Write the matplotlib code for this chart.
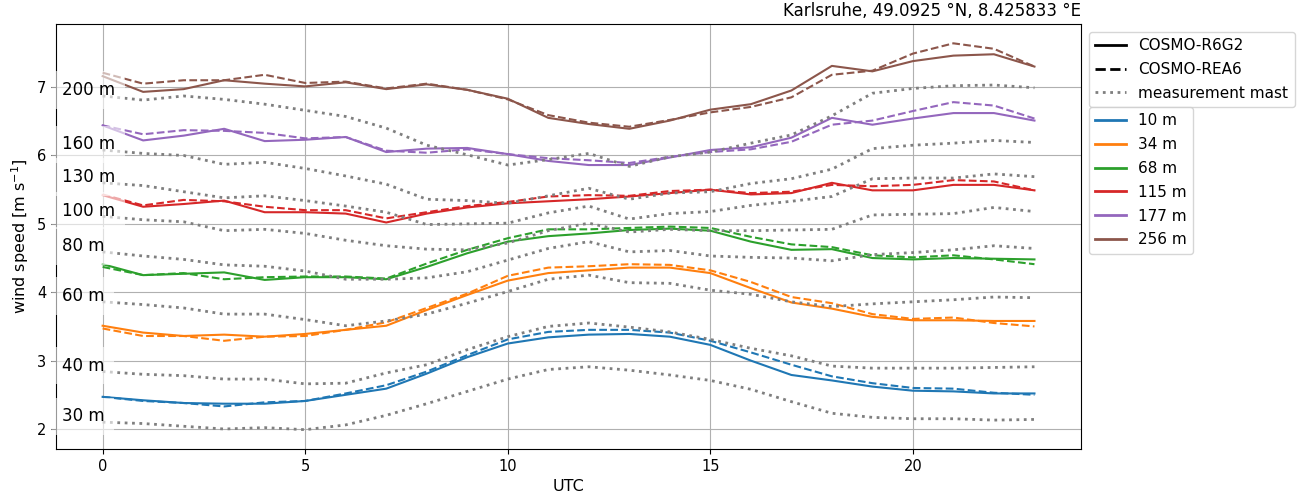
import numpy as np
import matplotlib
matplotlib.use("Agg")
import matplotlib.pyplot as plt
from matplotlib.lines import Line2D

plt.rcParams['font.size'] = 11
plt.rcParams['xtick.labelsize'] = 10.5
plt.rcParams['ytick.labelsize'] = 10.5

hours = np.arange(24)

# model levels: COSMO-R6G2 (solid) and COSMO-REA6 (dashed)
levels = ["10 m", "34 m", "68 m", "115 m", "177 m", "256 m"]
colors = ["tab:blue", "tab:orange", "tab:green", "tab:red", "tab:purple", "tab:brown"]

r6g2_10 = [2.47, 2.42, 2.38, 2.37, 2.37, 2.41, 2.50, 2.59, 2.81, 3.05, 3.25, 3.34,
           3.38, 3.39, 3.35, 3.23, 3.00, 2.79, 2.71, 2.62, 2.56, 2.55, 2.52, 2.52]
rea6_10 = [2.47, 2.41, 2.38, 2.33, 2.39, 2.41, 2.52, 2.64, 2.84, 3.08, 3.31, 3.42,
           3.45, 3.45, 3.41, 3.29, 3.12, 2.94, 2.77, 2.67, 2.60, 2.59, 2.53, 2.50]
r6g2_34 = [3.51, 3.41, 3.36, 3.38, 3.35, 3.39, 3.45, 3.51, 3.74, 3.96, 4.17, 4.28,
           4.32, 4.36, 4.36, 4.28, 4.06, 3.85, 3.76, 3.64, 3.59, 3.59, 3.58, 3.58]
rea6_34 = [3.47, 3.36, 3.36, 3.29, 3.35, 3.36, 3.45, 3.56, 3.77, 3.98, 4.24, 4.36,
           4.38, 4.41, 4.40, 4.32, 4.15, 3.93, 3.84, 3.68, 3.61, 3.63, 3.55, 3.50]
r6g2_68 = [4.41, 4.25, 4.27, 4.29, 4.18, 4.22, 4.22, 4.19, 4.37, 4.57, 4.74, 4.82,
           4.86, 4.91, 4.93, 4.90, 4.74, 4.62, 4.63, 4.50, 4.48, 4.50, 4.49, 4.48]
rea6_68 = [4.37, 4.25, 4.28, 4.19, 4.22, 4.23, 4.23, 4.20, 4.42, 4.62, 4.79, 4.92,
           4.92, 4.94, 4.96, 4.94, 4.81, 4.70, 4.66, 4.54, 4.51, 4.54, 4.48, 4.41]
r6g2_115 = [5.42, 5.25, 5.29, 5.34, 5.17, 5.17, 5.15, 5.02, 5.15, 5.24, 5.30, 5.33,
            5.36, 5.40, 5.45, 5.50, 5.43, 5.45, 5.60, 5.49, 5.49, 5.57, 5.57, 5.49]
rea6_115 = [5.43, 5.27, 5.35, 5.33, 5.25, 5.20, 5.20, 5.08, 5.17, 5.26, 5.32, 5.40,
            5.42, 5.41, 5.48, 5.50, 5.45, 5.47, 5.57, 5.55, 5.57, 5.64, 5.62, 5.49]
r6g2_177 = [6.44, 6.22, 6.29, 6.39, 6.21, 6.23, 6.27, 6.05, 6.10, 6.11, 6.02, 5.92,
            5.86, 5.86, 5.97, 6.08, 6.12, 6.26, 6.55, 6.45, 6.54, 6.62, 6.62, 6.51]
rea6_177 = [6.44, 6.31, 6.37, 6.36, 6.33, 6.25, 6.27, 6.07, 6.04, 6.09, 6.02, 5.96,
            5.93, 5.89, 5.98, 6.05, 6.09, 6.20, 6.45, 6.51, 6.65, 6.78, 6.73, 6.54]
r6g2_256 = [7.16, 6.93, 6.97, 7.10, 7.05, 7.01, 7.07, 6.97, 7.04, 6.96, 6.83, 6.55,
            6.46, 6.39, 6.51, 6.67, 6.75, 6.95, 7.31, 7.23, 7.38, 7.46, 7.48, 7.30]
rea6_256 = [7.21, 7.05, 7.10, 7.10, 7.18, 7.06, 7.08, 6.98, 7.05, 6.96, 6.82, 6.59,
            6.48, 6.42, 6.52, 6.63, 6.71, 6.85, 7.18, 7.24, 7.49, 7.64, 7.56, 7.30]

r6g2 = [r6g2_10, r6g2_34, r6g2_68, r6g2_115, r6g2_177, r6g2_256]
rea6 = [rea6_10, rea6_34, rea6_68, rea6_115, rea6_177, rea6_256]

# measurement mast heights
mast_levels = ["30 m", "40 m", "60 m", "80 m", "100 m", "130 m", "160 m", "200 m"]
mast_30 = [2.10, 2.08, 2.04, 2.00, 2.02, 1.99, 2.06, 2.20, 2.37, 2.55, 2.73, 2.87,
           2.91, 2.86, 2.79, 2.71, 2.58, 2.40, 2.23, 2.17, 2.15, 2.15, 2.13, 2.14]
mast_40 = [2.84, 2.80, 2.78, 2.73, 2.73, 2.66, 2.67, 2.82, 2.94, 3.16, 3.35, 3.50,
           3.55, 3.49, 3.42, 3.31, 3.18, 3.07, 2.92, 2.89, 2.89, 2.89, 2.90, 2.91]
mast_60 = [3.86, 3.82, 3.77, 3.68, 3.68, 3.60, 3.51, 3.58, 3.68, 3.84, 4.01, 4.19,
           4.25, 4.14, 4.13, 4.03, 3.97, 3.86, 3.79, 3.83, 3.86, 3.89, 3.93, 3.92]
mast_80 = [4.59, 4.53, 4.48, 4.40, 4.38, 4.31, 4.19, 4.19, 4.21, 4.30, 4.47, 4.64,
           4.74, 4.59, 4.61, 4.53, 4.51, 4.50, 4.46, 4.55, 4.58, 4.62, 4.68, 4.64]
mast_100 = [5.11, 5.06, 5.03, 4.90, 4.92, 4.86, 4.76, 4.68, 4.63, 4.62, 4.72, 4.90,
            5.01, 4.88, 4.92, 4.90, 4.90, 4.91, 4.92, 5.13, 5.14, 5.15, 5.24, 5.18]
mast_130 = [5.60, 5.56, 5.47, 5.38, 5.41, 5.34, 5.26, 5.17, 4.99, 5.00, 5.01, 5.16,
            5.26, 5.07, 5.15, 5.18, 5.27, 5.33, 5.40, 5.66, 5.67, 5.67, 5.73, 5.69]
mast_160 = [6.08, 6.03, 6.00, 5.87, 5.90, 5.81, 5.70, 5.58, 5.36, 5.34, 5.30, 5.41,
            5.52, 5.36, 5.45, 5.47, 5.59, 5.66, 5.80, 6.10, 6.15, 6.18, 6.22, 6.19]
mast_200 = [6.87, 6.81, 6.87, 6.82, 6.75, 6.66, 6.57, 6.40, 6.15, 6.01, 5.86, 5.94,
            6.03, 5.84, 5.98, 6.05, 6.18, 6.30, 6.58, 6.91, 6.98, 7.02, 7.03, 6.99]
mast = [mast_30, mast_40, mast_60, mast_80, mast_100, mast_130, mast_160, mast_200]

fig = plt.figure(figsize=(12.97, 4.99), dpi=100)
ax = fig.add_axes([0.0432, 0.1002, 0.7903, 0.8517])

for c, a, b in zip(colors, r6g2, rea6):
    ax.plot(hours, a, color=c, lw=1.5, ls='-')
    ax.plot(hours, b, color=c, lw=1.5, ls='--')

for name, ws in zip(mast_levels, mast):
    ax.plot(hours, ws, color='tab:gray', lw=2, ls=':')
    ax.text(-1, ws[0] + 0.085, name, ha='left', va='center', fontsize=12,
            bbox=dict(facecolor='white', alpha=0.6, edgecolor='none', pad=7))

ax.grid(True)
ax.set_xlabel("UTC", fontsize=11.5)
ax.set_ylabel("wind speed [m s$^{-1}$]", fontsize=11.5)
ax.set_title("Karlsruhe, 49.0925 °N, 8.425833 °E", loc='right', fontsize=12)

legend_kw = dict(loc='upper left', fontsize=11, labelspacing=0.575, borderpad=0.43)

style_handles = [Line2D([], [], color='k', lw=2, ls='-'),
                 Line2D([], [], color='k', lw=2, ls='--'),
                 Line2D([], [], color='tab:gray', lw=2, ls=':')]
leg1 = ax.legend(style_handles, ["COSMO-R6G2", "COSMO-REA6", "measurement mast"],
                 bbox_to_anchor=(1, 1), **legend_kw)
ax.add_artist(leg1)

level_handles = [Line2D([], [], color=c, lw=2) for c in colors]
ax.legend(level_handles, levels, bbox_to_anchor=(1, 0.823), **legend_kw)

fig.savefig("out.png", dpi=100)
